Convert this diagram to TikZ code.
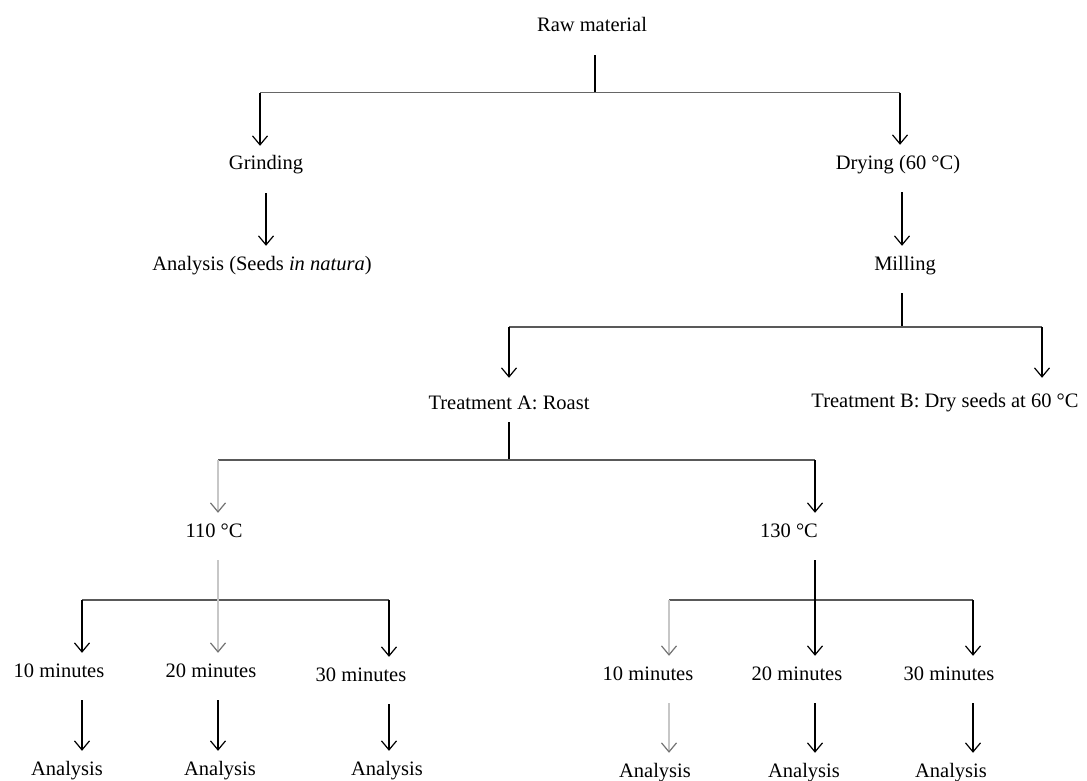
\documentclass[tikz,border=0pt]{standalone}
\usepackage{fontspec}
\setmainfont{Liberation Serif}
\usetikzlibrary{arrows.meta}
\begin{document}
\begin{tikzpicture}[x=1pt,y=-1pt,
  lbl/.style={font=\fontsize{20.5}{24}\selectfont, inner sep=0pt, text height=24pt, text depth=23pt, anchor=base},
  ln/.style={line width=1.3pt, black},
  arr/.style={line width=1.3pt, black, -{Straight Barb[length=9pt,width=15pt,line width=1.2pt]}},
  larr/.style={line width=1.3pt, black!22, -{Straight Barb[length=9pt,width=15pt,line width=1.2pt,color=black!55]}},
  thinbus/.style={line width=1pt, black!60},
  bus/.style={line width=2.2pt, black!65}]
\useasboundingbox (0,0) rectangle (1087,781);

% nodes
\node[lbl] (raw) at (592,32) {Raw material};
\node[lbl] (grind) at (266,170) {Grinding};
\node[lbl] (dry) at (898,169) {Drying (60 °C)};
\node[lbl] (anat) at (262,270) {Analysis (Seeds \textit{in natura})};
\node[lbl] (mill) at (905,270) {Milling};
\node[lbl, text height=31pt, text depth=13pt] (trA) at (509,409) {Treatment A: Roast};
\node[lbl, text height=29pt] (trB) at (945,407) {Treatment B: Dry seeds at 60 °C};
\node[lbl] (t110) at (214,537) {110 °C};
\node[lbl] (t130) at (789,537) {130 °C};
\node[lbl] (L10) at (59,677) {10 minutes};
\node[lbl] (L20) at (211,677) {20 minutes};
\node[lbl] (L30) at (361,681) {30 minutes};
\node[lbl] (R10) at (648,680) {10 minutes};
\node[lbl] (R20) at (797,680) {20 minutes};
\node[lbl] (R30) at (949,680) {30 minutes};
\node[lbl] (La1) at (67,775) {Analysis};
\node[lbl] (La2) at (220,775) {Analysis};
\node[lbl] (La3) at (387,775) {Analysis};
\node[lbl] (Ra1) at (655,777) {Analysis};
\node[lbl] (Ra2) at (804,777) {Analysis};
\node[lbl] (Ra3) at (951,777) {Analysis};

% junction coordinates
\coordinate (b0) at (595,93);
\coordinate (b0L) at (260,93);
\coordinate (b0R) at (900,93);
\coordinate (b1) at (902,327);
\coordinate (b1L) at (509,327);
\coordinate (b1R) at (1042,327);
\coordinate (b2) at (509,460);
\coordinate (b2L) at (218,460);
\coordinate (b2R) at (815,460);
\coordinate (b3) at (218,600);
\coordinate (b3L) at (82,600);
\coordinate (b3R) at (389,600);
\coordinate (b4) at (815,600);
\coordinate (b4L) at (669,600);
\coordinate (b4R) at (973,600);

% level 0
\draw[ln] (b0 |- raw.south) -- (b0);
\draw[thinbus] (b0L) -- (b0R);
\draw[arr] (b0L) -- (b0L |- grind.north);
\draw[arr] (b0R) -- (b0R |- dry.north);
\draw[arr] (grind.south) -- (grind.south |- anat.north);
\draw[arr] (b1 |- dry.south) -- (b1 |- mill.north);

% level 1
\draw[ln] (b1 |- mill.south) -- (b1);
\draw[bus] (b1L) -- (b1R);
\draw[arr] (b1L) -- (b1L |- trA.north);
\draw[arr] (b1R) -- (b1R |- trB.north);

% level 2
\draw[ln] (b2 |- trA.south) -- (b2);
\draw[bus] (b2L) -- (b2R);
\draw[larr] (b2L) -- (b2L |- t110.north);
\draw[arr] (b2R) -- (b2R |- t130.north);

% level 3 left
\draw[bus] (b3L) -- (b3R);
\draw[larr] (b3 |- t110.south) -- (b3 |- L20.north);
\draw[arr] (b3L) -- (b3L |- L10.north);
\draw[arr] (b3R) -- (b3R |- L30.north);
\draw[arr] (b3L |- L10.south) -- (b3L |- La1.north);
\draw[arr] (b3 |- L20.south) -- (b3 |- La2.north);
\draw[arr] (b3R |- L30.south) -- (b3R |- La3.north);

% level 3 right
\draw[bus] (b4L) -- (b4R);
\draw[arr] (b4 |- t130.south) -- (b4 |- R20.north);
\draw[larr] (b4L) -- (b4L |- R10.north);
\draw[arr] (b4R) -- (b4R |- R30.north);
\draw[larr] (b4L |- R10.south) -- (b4L |- Ra1.north);
\draw[arr] (b4 |- R20.south) -- (b4 |- Ra2.north);
\draw[arr] (b4R |- R30.south) -- (b4R |- Ra3.north);
\end{tikzpicture}
\end{document}
